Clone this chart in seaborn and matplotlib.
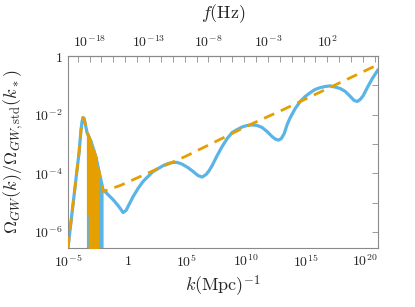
import numpy as np
import pandas as pd
import seaborn as sns
import matplotlib
matplotlib.use("Agg")
from matplotlib import pyplot as plt
from matplotlib.ticker import FixedLocator, FuncFormatter, NullFormatter

# values, as log10(k) and log10(Omega)
blue_logk = [-5.0, -4.07, -3.91, -3.82, -3.74, -3.65, -3.57, -3.40, -3.06, -2.64,
             -2.39, -2.05, -1.63, -1.21, -0.79, -0.54, -0.37, -0.12, 0.13, 0.47,
             0.89, 1.31, 1.73, 2.15, 2.58, 3.00, 3.42, 3.84, 4.18, 4.60, 5.10,
             5.52, 5.94, 6.28, 6.62, 6.87, 7.12, 7.54, 7.96, 8.38, 8.80, 9.23,
             9.65, 10.07, 10.49, 10.91, 11.33, 11.75, 12.17, 12.42, 12.68, 12.93,
             13.18, 13.43, 13.69, 14.11, 14.53, 14.95, 15.37, 15.79, 16.21, 16.63,
             17.05, 17.47, 17.90, 18.32, 18.74, 19.07, 19.33, 19.58, 19.83, 20.17,
             20.59, 21.09]
blue_logO = [-6.54, -3.29, -2.54, -2.24, -2.10, -2.13, -2.27, -2.61, -2.92, -3.46,
             -3.94, -4.56, -4.73, -4.90, -5.10, -5.24, -5.34, -5.27, -5.07, -4.80,
             -4.52, -4.28, -4.11, -3.94, -3.84, -3.74, -3.67, -3.63, -3.63, -3.69,
             -3.81, -3.94, -4.08, -4.13, -4.04, -3.91, -3.74, -3.40, -3.09, -2.82,
             -2.61, -2.51, -2.42, -2.37, -2.35, -2.37, -2.44, -2.58, -2.75, -2.83,
             -2.87, -2.82, -2.65, -2.34, -2.10, -1.79, -1.55, -1.38, -1.25, -1.14,
             -1.08, -1.04, -1.02, -1.06, -1.11, -1.21, -1.38, -1.52, -1.55, -1.48,
             -1.35, -1.08, -0.77, -0.46]

env_logk = [-5.0, -4.07, -3.91, -3.82, -3.74, -3.65, -3.57, -3.40, -3.06, -2.64,
            -2.39, -2.05, -0.62, 2.74, 4.85, 10.32, 13.10, 21.09]
env_logO = [-6.54, -3.29, -2.54, -2.24, -2.10, -2.13, -2.27, -2.61, -2.92, -3.46,
            -3.94, -4.62, -4.42, -3.81, -3.43, -2.34, -1.83, -0.29]

# dense oscillation region, drawn as bands
band_logk = [-3.45, -3.40, -3.06, -2.64, -2.39, -2.05]
band_top = [-2.61, -2.61, -2.92, -3.46, -3.94, -4.56]
orange_band_logk = [-3.45, -3.30, -3.30, -3.06, -2.64, -2.39]
orange_band_top = [-2.61, -2.70, -2.70, -2.92, -3.46, -3.94]
orange_band_bot = [-5.41, -5.41, -6.6, -6.6, -6.6, -6.6]

k_ticks = [-5, 0, 5, 10, 15, 20]
f_ticks = [-18, -13, -8, -3, 2]
O_ticks = [0, -2, -4, -6]

BLUE = "#5ab4e6"
ORANGE = "#e69f00"
GREY = "#8a8a8a"

sns.set_style("white")
plt.rcParams["font.family"] = ["DejaVu Serif"]
plt.rcParams["mathtext.fontset"] = "cm"

df_b = pd.DataFrame({"k": 10 ** np.array(blue_logk), "O": 10 ** np.array(blue_logO)})
df_e = pd.DataFrame({"k": 10 ** np.array(env_logk), "O": 10 ** np.array(env_logO)})

fig = plt.figure(figsize=(4.15, 3.07), dpi=100)
ax = fig.add_axes([68 / 415, 1 - 248 / 307, 310 / 415, 192 / 307])

ax.fill_between(10 ** np.array(band_logk), 10 ** np.array(band_top), 10 ** -6.6,
                color=BLUE, lw=0, zorder=2)
ax.fill_between(10 ** np.array(orange_band_logk), 10 ** np.array(orange_band_top),
                10 ** np.array(orange_band_bot), color=ORANGE, lw=0, zorder=3)

sns.lineplot(data=df_b, x="k", y="O", ax=ax, color=BLUE, lw=2.3, zorder=2,
             sort=False, estimator=None)
sns.lineplot(data=df_e, x="k", y="O", ax=ax, color=ORANGE, lw=2.0, zorder=4,
             sort=False, estimator=None)
ax.lines[-1].set_dashes([4, 2.6])
for ln in ax.lines:
    ln.set_solid_joinstyle("round")

ax.set_xscale("log")
ax.set_yscale("log")
ax.set_xlim(1e-5, 10 ** 21.07)
ax.set_ylim(10 ** -6.55, 1)


def fmt(v, pos):
    e = int(round(np.log10(v)))
    return "$1$" if e == 0 else r"$10^{%d}$" % e


ax.xaxis.set_major_locator(FixedLocator([10.0 ** e for e in k_ticks]))
ax.xaxis.set_minor_locator(FixedLocator([10.0 ** e for e in range(-5, 22)]))
ax.xaxis.set_major_formatter(FuncFormatter(fmt))
ax.xaxis.set_minor_formatter(NullFormatter())
ax.yaxis.set_major_locator(FixedLocator([10.0 ** e for e in O_ticks]))
ax.yaxis.set_minor_locator(FixedLocator([10.0 ** e for e in range(-6, 1)]))
ax.yaxis.set_major_formatter(FuncFormatter(fmt))
ax.yaxis.set_minor_formatter(NullFormatter())

for s in ax.spines.values():
    s.set_color(GREY)
    s.set_linewidth(0.8)
ax.tick_params(which="both", direction="in", color=GREY, width=0.6, length=4,
               labelsize=10, right=True, pad=4)

sec = ax.secondary_xaxis("top", functions=(lambda k: k * 1.546e-15,
                                            lambda f: f / 1.546e-15))
sec.xaxis.set_major_locator(FixedLocator([10.0 ** e for e in f_ticks]))
sec.xaxis.set_minor_locator(FixedLocator([10.0 ** e for e in range(-20, 7)]))
sec.xaxis.set_major_formatter(FuncFormatter(fmt))
sec.xaxis.set_minor_formatter(NullFormatter())
sec.tick_params(which="both", direction="in", color=GREY, width=0.6, length=4,
                labelsize=10, pad=4)
sec.spines["top"].set_color(GREY)
sec.set_xlabel(r"$f(\mathrm{Hz})$", fontsize=13, labelpad=12)

ax.set_xlabel(r"$k(\mathrm{Mpc})^{-1}$", fontsize=13, labelpad=3)
ax.set_ylabel(r"$\Omega_{GW}(k)/\Omega_{GW,\mathrm{std}}(k_*)$", fontsize=13,
              labelpad=6)

fig.savefig("out.png", dpi=100)
